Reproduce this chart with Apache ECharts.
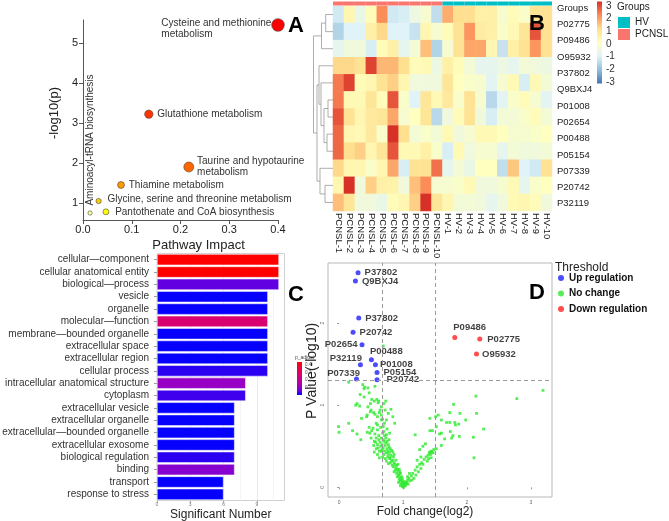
<!DOCTYPE html>
<html>
<head>
<meta charset="utf-8">
<title>PCNSL proteomics figure</title>
<script src="https://cdn.jsdelivr.net/npm/echarts@6/dist/echarts.min.js"></script>
<style>
  html, body { margin: 0; padding: 0; background: #fff; }
  #chart { width: 669px; height: 521px; }
</style>
</head>
<body>
<div id="chart"></div>
<script>
// ---- A: pathway impact ----
var pathNames = ['Cysteine and methionine\nmetabolism', 'Glutathione metabolism', 'Taurine and hypotaurine\nmetabolism',
  'Thiamine metabolism', 'Glycine, serine and threonine metabolism', 'Pantothenate and CoA biosynthesis', 'Aminoacyl-tRNA biosynthesis']
var pathImpact = [0.4, 0.135, 0.217, 0.078, 0.032, 0.047, 0.0145]
var pathLogP = [5.45, 3.22, 1.9, 1.45, 1.05, 0.78, 0.75]
var logPTicks = [1, 2, 3, 4, 5]

// ---- B: heatmap ----
var samples = ['PCNSL-1', 'PCNSL-2', 'PCNSL-3', 'PCNSL-4', 'PCNSL-5', 'PCNSL-6', 'PCNSL-7', 'PCNSL-8', 'PCNSL-9', 'PCNSL-10',
  'HV-1', 'HV-2', 'HV-3', 'HV-4', 'HV-5', 'HV-6', 'HV-7', 'HV-8', 'HV-9', 'HV-10']
var sampleGroups = ['PCNSL', 'PCNSL', 'PCNSL', 'PCNSL', 'PCNSL', 'PCNSL', 'PCNSL', 'PCNSL', 'PCNSL', 'PCNSL',
  'HV', 'HV', 'HV', 'HV', 'HV', 'HV', 'HV', 'HV', 'HV', 'HV']
var proteins = ['P02775', 'P09486', 'O95932', 'P37802', 'Q9BXJ4', 'P01008', 'P02654', 'P00488', 'P05154', 'P07339', 'P20742', 'P32119']
var zScores = [
  [-1.2, 0.3, -0.7, 0.1, 2.0, -1.2, -1.1, -0.6, -0.3, -1.4, 1.6, 1.0, 1.0, 0.5, 0.5, -0.3, 0.1, -0.2, 0.9, 0.9],
  [-1.6, -1.0, -1.0, 0.5, 1.1, -1.0, -1.0, -1.3, 0.3, -0.3, 0.1, 0.9, 1.9, 0.6, 0.5, -0.2, 0.2, 0.8, 2.6, 0.9],
  [-0.8, -0.5, -0.5, -1.1, 0.1, 0.5, -0.8, -0.4, 1.4, -1.6, -0.3, 0.9, 1.7, 1.7, 0.3, -1.3, 0.5, 0.9, 1.9, 0.9],
  [1.1, 1.1, 0.9, 2.8, 1.5, 1.5, 1.0, 0.1, 0.2, -0.6, 0.5, 0.1, -0.4, -0.8, -0.8, -0.6, -0.8, -0.4, -0.5, -0.6],
  [2.2, 2.8, 0.1, 0.3, 0.9, 1.2, 0.3, -0.5, -0.5, -0.5, 0.8, 0.0, -0.2, -0.3, -0.9, -0.3, 0.2, -1.1, 0.2, -0.4],
  [2.2, 0.2, 0.2, 0.8, 0.1, 2.6, -0.2, -1.0, 0.8, 0.2, 0.7, -0.2, 0.9, -0.3, -1.5, -0.9, -0.2, 0.1, -0.3, -0.9],
  [2.6, 0.9, 0.3, 0.7, 0.8, 1.7, -0.3, 0.0, 0.8, -1.5, -0.5, 0.1, 0.9, -0.5, -1.1, -0.4, -0.4, -0.2, 0.1, -0.4],
  [2.4, 0.3, 0.2, 0.7, -0.2, 3.0, 1.0, -0.4, -0.2, -0.4, 0.2, -0.5, -0.3, 0.2, 0.2, 0.0, -0.3, -0.3, -0.2, 0.0],
  [2.4, 1.0, 1.2, 0.3, 0.8, 2.6, 0.2, 0.2, 0.5, -0.2, -1.1, 0.2, -0.5, -0.3, -0.3, -0.8, -0.4, -0.5, -0.5, -0.4],
  [1.1, 0.3, 0.3, -0.2, 0.3, 1.7, -1.1, 0.9, 0.9, 2.3, -0.8, -0.4, -0.7, 0.0, 0.0, -1.4, 1.3, -1.0, -1.2, 0.9],
  [0.3, 3.0, -0.5, 1.2, 0.5, 0.4, -0.5, 1.4, 2.0, -0.3, -0.3, -0.2, 0.2, -0.5, -0.5, -0.3, 0.2, -0.8, -0.2, 0.0],
  [1.4, 0.8, -0.5, -0.5, -0.7, 0.1, 0.3, 1.2, 3.2, 0.8, 0.3, -0.4, -0.4, -0.5, -0.8, -0.5, 0.2, 0.3, 0.1, -0.5]
]
var scaleTicks = [3, 2, 1, 0, -1, -2, -3]
// row clustering: [child a, child b, height]; leaves 0-11, merges numbered from 12
var rowMerges = [[0, 1, 7.3], [12, 2, 11.5], [5, 6, 5], [7, 8, 6], [14, 15, 9], [4, 16, 12], [3, 17, 14],
  [10, 11, 8], [9, 19, 13], [18, 20, 16], [13, 21, 19.5]]

// ---- C: GO terms ----
var goTerms = ['cellular—component', 'cellular anatomical entity', 'biological—process', 'vesicle', 'organelle',
  'molecular—function', 'membrane—bounded organelle', 'extracellular space', 'extracellular region', 'cellular process',
  'intracellular anatomical structure', 'cytoplasm', 'extracellular vesicle', 'extracellular organelle',
  'extracellular—bounded organelle', 'extracellular exosome', 'biological regulation', 'binding', 'transport', 'response to stress']
var goCounts = [11, 11, 11, 10, 10, 10, 10, 10, 10, 10, 8, 8, 7, 7, 7, 7, 7, 7, 6, 6]
var goPadj = [0.44, 0.44, 0.053, 0.008, 0.008, 0.27, 0.008, 0.008, 0.008, 0.026, 0.11, 0.035, 0.008, 0.008, 0.008, 0.008, 0.026, 0.088, 0.008, 0.008]
var countTicks = [0, 3, 6, 9]
var padjTicks = [0.4, 0.3, 0.2, 0.1]

// ---- D: volcano ----
var upNames = ['P37802', 'Q9BXJ4', 'P37802', 'P20742', 'P02654', 'P00488', 'P32119', 'P01008', 'P05154', 'P07339', 'P20742']
var upPoints = [[0.296, 2.61], [0.255, 2.51], [0.307, 2.06], [0.218, 1.886], [0.358, 1.736], [0.505, 1.553],
  [0.333, 1.493], [0.568, 1.493], [0.593, 1.399], [0.271, 1.319], [0.593, 1.31]]
var downNames = ['P09486', 'P02775', 'O95932']
var downPoints = [[1.809, 1.825], [2.2, 1.805], [2.149, 1.623]]
var noChange = [
  [0.15, 1.28], [0.37, 1.25], [0.39, 1.20], [0.45, 1.21], [0.40, 1.22], [0.56, 1.23], [0.33, 1.13], [0.39, 1.10],
  [0.47, 1.15], [0.51, 1.07], [0.55, 1.05], [0.59, 1.07], [0.62, 1.05], [0.61, 1.03], [0.49, 1.02], [0.45, 0.98],
  [0.26, 1.00], [0.28, 1.02], [0.32, 0.99], [0.66, 0.98], [0.49, 0.92], [0.54, 0.91], [0.63, 0.91], [0.50, 0.94],
  [0.56, 0.89], [0.44, 0.88], [0.60, 0.86], [0.35, 0.84], [0.43, 0.86], [0.68, 0.83], [0.64, 0.94],
  [-0.01, 0.74], [0.15, 0.78], [0.00, 0.67], [0.21, 0.69], [0.34, 0.58], [0.28, 0.65], [0.44, 0.67], [0.47, 0.73],
  [0.51, 0.69], [0.56, 0.65], [0.60, 0.76], [0.65, 0.73], [0.53, 0.72], [0.58, 0.78], [0.66, 0.82], [0.48, 0.66],
  [0.50, 0.60], [0.58, 0.60], [0.55, 0.56], [0.54, 0.51], [0.60, 0.52], [0.58, 0.47], [0.55, 0.43], [0.60, 0.40],
  [0.66, 0.44], [0.63, 0.36], [0.68, 0.37], [0.60, 0.70], [0.62, 0.63], [0.57, 0.55],
  [0.73, 1.05], [0.81, 0.95], [0.84, 0.86], [0.87, 0.78], [0.75, 0.71], [0.79, 0.66], [0.71, 0.78], [0.66, 0.88],
  [0.72, 0.94], [0.70, 1.02], [0.74, 0.82], [0.77, 0.90], [0.69, 0.74], [0.69, 1.72],
  [0.68, 0.66], [0.71, 0.63], [0.66, 0.60], [0.73, 0.60], [0.70, 0.56], [0.75, 0.56], [0.67, 0.52], [0.72, 0.51],
  [0.77, 0.52], [0.75, 0.47], [0.80, 0.47], [0.71, 0.44], [0.79, 0.43], [0.84, 0.43], [0.81, 0.39], [0.76, 0.37],
  [0.85, 0.37], [0.84, 0.33], [0.89, 0.33], [0.80, 0.30], [0.87, 0.28], [0.92, 0.28], [0.89, 0.24], [0.94, 0.22],
  [0.92, 0.20], [0.96, 0.17], [0.93, 0.14], [0.98, 0.13], [0.97, 0.09], [1.00, 0.07], [1.02, 0.05], [0.99, 0.03],
  [1.03, 0.02], [1.01, 0.00],
  [0.70, 0.68], [0.74, 0.64], [0.69, 0.58], [0.78, 0.58], [0.73, 0.54], [0.69, 0.48], [0.78, 0.49], [0.74, 0.42],
  [0.82, 0.45], [0.77, 0.40], [0.86, 0.40], [0.79, 0.35], [0.82, 0.32], [0.86, 0.30], [0.90, 0.27], [0.85, 0.25],
  [0.91, 0.22], [0.95, 0.19], [0.90, 0.17], [0.94, 0.16], [0.96, 0.12], [0.99, 0.10], [0.95, 0.08], [0.98, 0.06],
  [1.00, 0.04], [0.97, 0.04], [1.02, 0.02], [0.99, 0.01],
  [0.62, 0.58], [0.64, 0.55], [0.61, 0.48], [0.65, 0.50], [0.67, 0.46], [0.63, 0.44], [0.70, 0.40], [0.72, 0.35],
  [0.74, 0.32], [0.77, 0.29], [0.76, 0.44], [0.80, 0.36], [0.83, 0.27], [0.88, 0.21], [0.86, 0.19], [0.91, 0.13],
  [0.94, 0.10], [0.93, 0.06], [0.96, 0.02],
  [1.05, 0.05], [1.07, 0.09], [1.09, 0.11], [1.13, 0.14], [1.15, 0.17], [1.19, 0.21], [1.22, 0.25], [1.26, 0.28],
  [1.29, 0.30], [1.33, 0.34], [1.36, 0.37], [1.39, 0.39], [1.41, 0.42], [1.45, 0.43], [1.10, 0.17], [1.07, 0.13],
  [1.14, 0.09], [1.17, 0.11], [1.20, 0.15], [1.24, 0.19], [1.28, 0.23], [1.31, 0.28], [1.38, 0.32], [1.40, 0.35],
  [1.19, 0.64], [1.28, 0.37], [1.22, 0.33], [1.04, 0.03], [1.06, 0.06], [1.11, 0.08], [1.03, 0.07], [1.08, 0.04],
  [1.26, 0.46], [1.31, 0.50], [1.35, 0.53],
  [3.19, 1.18], [2.78, 1.08], [2.14, 1.11], [1.79, 1.01], [2.15, 0.90], [1.89, 0.90], [1.73, 0.91], [1.55, 0.88],
  [1.51, 0.86], [1.98, 0.82], [1.60, 0.82], [1.68, 0.79], [1.73, 0.79], [1.81, 0.79], [1.82, 0.76], [1.87, 0.77],
  [1.52, 0.74], [2.26, 0.71], [1.46, 0.69], [1.42, 0.69], [1.60, 0.66], [1.57, 0.65], [1.74, 0.68], [1.78, 0.63],
  [1.88, 0.62], [2.10, 0.61], [1.65, 0.59], [1.76, 0.60], [1.60, 0.51], [1.52, 0.47], [1.48, 0.46], [1.44, 0.44],
  [1.42, 0.43], [1.47, 0.42], [1.43, 0.40], [1.44, 0.36], [2.11, 0.36], [1.42, 0.84]
]
var fcTicks = [0, 1, 2, 3]
var volcPTicks = [0, 1, 2]
var fcCuts = [0.667, 1.5]
var pCut = 1.3

// ---- styling helpers ----
var heatPalette = ['#FF0000', '#FF3300', '#FF6600', '#FF9900', '#FFCC00', '#FFFF00', '#FFFFA0']
var rdylbu = ['#4575B4', '#91BFDB', '#E0F3F8', '#FFFFBF', '#FEE090', '#FC8D59', '#D73027']
var padjColors = ['#0000FF', '#7000DE', '#9A00C2', '#B500A5', '#C90088', '#DA006C', '#E8004F', '#F40031', '#FF0000']
var font = 'Liberation Sans, Arial, sans-serif'

var pathLabelStyle = [
  { position: [-110, -1], align: 'left', verticalAlign: 'top', lineHeight: 11 },
  { position: 'right', distance: 4 },
  { position: 'right', distance: 3, lineHeight: 11 },
  { position: 'right', distance: 4 },
  { position: 'right', distance: 6, offset: [0, -2] },
  { position: 'right', distance: 6 },
  { position: 'top', distance: 5, rotate: 90, align: 'left', verticalAlign: 'middle' }
]
var upLabelStyle = [
  { position: 'right', distance: 4 }, { position: 'right', distance: 4 }, { position: 'right', distance: 4 },
  { position: 'right', distance: 4 }, { position: 'left', distance: 2 },
  { position: 'right', distance: -4, offset: [0, -8] }, { position: 'left', distance: -4, offset: [0, -6] },
  { position: 'right', distance: 2 }, { position: 'right', distance: 4 },
  { position: 'left', distance: -6, offset: [0, -6] }, { position: 'right', distance: 7 }
]
var downLabelStyle = [
  { position: 'right', distance: -4, offset: [0, -10] }, { position: 'right', distance: 5 }, { position: 'right', distance: 3 }
]

var logPRank = pathLogP.slice().sort(function (a, b) { return b - a })

// dendrogram segments from merges
var nodePos = proteins.map(function (p, i) { return i })
var nodeH = proteins.map(function () { return 0 })
var dendroLines = rowMerges.map(function (m) {
  var a = m[0], b = m[1], h = m[2]
  var seg = { coords: [[nodeH[a], nodePos[a]], [h, nodePos[a]], [h, nodePos[b]], [nodeH[b], nodePos[b]]] }
  nodePos.push((nodePos[a] + nodePos[b]) / 2)
  nodeH.push(h)
  return seg
})

var heatData = []
zScores.forEach(function (row, r) {
  row.forEach(function (v, c) { heatData.push([c, r, v]) })
})

function txt(text, x, y, size, extra) {
  var s = { text: text, x: x, y: y, font: (extra && extra.weight ? extra.weight + ' ' : '') + size + 'px ' + font,
    fill: (extra && extra.fill) || '#222', textAlign: (extra && extra.align) || 'left', textVerticalAlign: 'middle' }
  return { type: 'text', z: 100, style: s }
}

var graphics = [
  txt('A', 288, 26, 22, { weight: 'bold', fill: '#000' }),
  txt('B', 529, 24, 22, { weight: 'bold', fill: '#000' }),
  txt('C', 288, 295, 22, { weight: 'bold', fill: '#000' }),
  txt('D', 529, 293, 22, { weight: 'bold', fill: '#000' }),
  txt('Groups', 617, 7, 10),
  txt('Threshold', 555, 268, 12),
  txt('p_adjust', 295, 358, 5, { fill: '#444' }),
  {
    type: 'rect', z: 100, shape: { x: 597, y: 1.5, width: 5, height: 82 },
    style: { fill: new echarts.graphic.LinearGradient(0, 0, 0, 1, rdylbu.slice().reverse().map(function (c, i, arr) {
      return { offset: i / (arr.length - 1), color: c }
    })) }
  },
  {
    type: 'rect', z: 100, shape: { x: 297, y: 362, width: 5, height: 33 },
    style: { fill: new echarts.graphic.LinearGradient(0, 0, 0, 1, padjColors.slice().reverse().map(function (c, i, arr) {
      return { offset: i / (arr.length - 1), color: c }
    })) }
  }
]
scaleTicks.forEach(function (v) {
  graphics.push(txt(String(v), 606, 6 + (3 - v) * 76 / 6, 10, { fill: '#333' }))
})
padjTicks.forEach(function (v) {
  graphics.push(txt(String(v), 305, 362 + (0.44 - v) * 75.7, 4.5, { fill: '#555' }))
})

var option = {
  animation: false,
  textStyle: { fontFamily: font },
  grid: [
    { left: 83, top: 20, width: 195, height: 200, outerBoundsMode: 'none' },
    { left: 333, top: 6, width: 219, height: 205, outerBoundsMode: 'none' },
    { left: 333, top: 1.5, width: 219, height: 4, outerBoundsMode: 'none' },
    { left: 311, top: 6, width: 22, height: 205, outerBoundsMode: 'none' },
    { left: 333, top: 0, width: 219, height: 212, outerBoundsMode: 'none' },
    { left: 157, top: 253.5, width: 127.5, height: 247, show: true, borderColor: '#d0d0d0', borderWidth: 1, outerBoundsMode: 'none' },
    { left: 328, top: 263, width: 224, height: 234, show: true, borderColor: '#b8b8b8', borderWidth: 1, outerBoundsMode: 'none' }
  ],
  xAxis: [
    {
      gridIndex: 0, type: 'value', min: 0, max: 0.4, interval: 0.1,
      axisLine: { show: true, lineStyle: { color: '#555' } },
      axisTick: { show: true, length: 4, lineStyle: { color: '#555' } },
      axisLabel: { fontSize: 11, color: '#222', margin: 4, formatter: function (v) { return v.toFixed(1) } },
      splitLine: { show: false },
      name: 'Pathway Impact', nameLocation: 'middle', nameGap: 19,
      nameTextStyle: { fontSize: 13, color: '#222', padding: [0, 0, 0, 36] }
    },
    {
      gridIndex: 1, type: 'category', data: samples,
      axisLine: { show: false }, axisTick: { show: false },
      axisLabel: { rotate: -90, fontSize: 9.5, color: '#222', margin: 2, interval: 0 }
    },
    { gridIndex: 2, type: 'category', data: samples, show: false },
    { gridIndex: 3, type: 'value', min: 0, max: 22, inverse: true, show: false },
    { gridIndex: 4, type: 'value', show: false },
    {
      gridIndex: 5, type: 'value', min: 0, max: 11.5, interval: 3,
      axisLine: { show: false },
      axisTick: { show: true, length: 2, customValues: countTicks, lineStyle: { color: '#aaa' } },
      axisLabel: { fontSize: 5, color: '#777', margin: 2, customValues: countTicks },
      splitLine: { show: true, lineStyle: { color: '#ebebeb' } },
      minorTick: { show: false, splitNumber: 2 },
      minorSplitLine: { show: true, lineStyle: { color: '#f4f4f4' } },
      name: 'Significant Number', nameLocation: 'middle', nameGap: 5,
      nameTextStyle: { fontSize: 12, color: '#222' }
    },
    {
      gridIndex: 6, type: 'value', min: -0.174, max: 3.33,
      axisLine: { show: false },
      axisTick: { show: true, length: 2, customValues: fcTicks, lineStyle: { color: '#999' } },
      axisLabel: { fontSize: 5, color: '#666', margin: 3, customValues: fcTicks },
      splitLine: { show: false },
      name: 'Fold change(log2)', nameLocation: 'middle', nameGap: 8,
      nameTextStyle: { fontSize: 12, color: '#222', padding: [0, 30, 0, 0] }
    }
  ],
  yAxis: [
    {
      gridIndex: 0, type: 'value', min: 0.575, max: 5.575,
      axisLine: { show: true, lineStyle: { color: '#555' } },
      axisTick: { show: true, length: 4, customValues: logPTicks, lineStyle: { color: '#555' } },
      axisLabel: { fontSize: 11, color: '#222', margin: 5, customValues: logPTicks },
      splitLine: { show: false },
      name: '-log10(p)', nameLocation: 'middle', nameGap: 22,
      nameTextStyle: { fontSize: 13, color: '#222', padding: [0, 0, 0, 14] }
    },
    { gridIndex: 1, type: 'category', data: proteins, inverse: true, show: false },
    { gridIndex: 2, type: 'value', min: 0, max: 1, show: false },
    { gridIndex: 3, type: 'value', min: -0.5, max: 11.5, inverse: true, show: false },
    {
      gridIndex: 4, type: 'category', data: ['Groups'].concat(proteins), inverse: true, position: 'right',
      axisLine: { show: false }, axisTick: { show: false },
      axisLabel: { fontSize: 9.5, color: '#222', margin: 5, interval: 0 }
    },
    {
      gridIndex: 5, type: 'category', data: goTerms, inverse: true,
      axisLine: { show: false },
      axisTick: { show: true, length: 3, alignWithLabel: true, interval: 0, lineStyle: { color: '#999' } },
      axisLabel: { fontSize: 10, color: '#333', margin: 8, interval: 0 },
      splitLine: { show: false }
    },
    {
      gridIndex: 6, type: 'value', min: -0.117, max: 2.73,
      axisLine: { show: false },
      axisTick: { show: true, length: 2, customValues: volcPTicks, lineStyle: { color: '#999' } },
      axisLabel: { fontSize: 5, color: '#666', margin: 3, rotate: 90, customValues: volcPTicks },
      splitLine: { show: false },
      name: 'P Value(-log10)', nameLocation: 'middle', nameGap: 7,
      nameTextStyle: { fontSize: 14, color: '#222', padding: [0, 0, 0, 18] }
    }
  ],
  visualMap: [
    { type: 'continuous', show: false, seriesIndex: 1, dimension: 2, min: -3, max: 3, inRange: { color: rdylbu } },
    { type: 'continuous', show: false, seriesIndex: 6, dimension: 2, min: 0.005, max: 0.44, inRange: { color: padjColors } }
  ],
  legend: [
    {
      data: ['HV', 'PCNSL'], orient: 'vertical', left: 618, top: 17, padding: 0,
      icon: 'rect', itemWidth: 12, itemHeight: 11, itemGap: 1, selectedMode: false,
      textStyle: { fontSize: 10, color: '#222' }
    },
    {
      data: ['Up regulation', 'No change', 'Down regulation'], orient: 'vertical', left: 558, top: 273, padding: 0,
      icon: 'circle', itemWidth: 6, itemHeight: 6, itemGap: 5.5, selectedMode: false,
      textStyle: { fontSize: 10, fontWeight: 'bold', color: '#111' }
    }
  ],
  series: [
    {
      type: 'scatter', xAxisIndex: 0, yAxisIndex: 0,
      data: pathNames.map(function (n, i) {
        return { name: n, value: [pathImpact[i], pathLogP[i]], label: pathLabelStyle[i] }
      }),
      symbolSize: function (v) { return 2.3 + 16.4 * Math.sqrt(v[0]) },
      itemStyle: {
        color: function (p) { return heatPalette[logPRank.indexOf(p.value[1])] },
        borderColor: '#444', borderWidth: 0.6, opacity: 1
      },
      label: { show: true, formatter: '{b}', fontSize: 10, color: '#333' }
    },
    {
      type: 'heatmap', xAxisIndex: 1, yAxisIndex: 1, data: heatData,
      emphasis: { disabled: true }
    },
    {
      name: 'PCNSL', type: 'bar', xAxisIndex: 2, yAxisIndex: 2, stack: 'grp', barWidth: '100%',
      data: sampleGroups.map(function (g) { return g === 'PCNSL' ? 1 : '-' }),
      itemStyle: { color: '#F8766D' }
    },
    {
      name: 'HV', type: 'bar', xAxisIndex: 2, yAxisIndex: 2, stack: 'grp', barWidth: '100%',
      data: sampleGroups.map(function (g) { return g === 'HV' ? 1 : '-' }),
      itemStyle: { color: '#00BFC4' }
    },
    {
      type: 'lines', coordinateSystem: 'cartesian2d', xAxisIndex: 3, yAxisIndex: 3, polyline: true,
      data: dendroLines, silent: true,
      lineStyle: { color: '#8a8a8a', width: 0.7, opacity: 1 }
    },
    { type: 'scatter', xAxisIndex: 4, yAxisIndex: 4, data: [] },
    {
      type: 'bar', xAxisIndex: 5, yAxisIndex: 5, barCategoryGap: '10%',
      data: goTerms.map(function (t, i) { return [goCounts[i], t, goPadj[i]] }),
      encode: { x: 0, y: 1 },
      itemStyle: { borderColor: '#fff', borderWidth: 0.5 }
    },
    {
      name: 'No change', type: 'scatter', xAxisIndex: 6, yAxisIndex: 6, data: noChange,
      symbol: 'rect', symbolSize: 2.8, itemStyle: { color: '#2ee82e' },
      markLine: {
        silent: true, symbol: 'none', label: { show: false },
        lineStyle: { color: '#9a9a9a', type: [4, 3], width: 1 },
        data: [{ xAxis: fcCuts[0] }, { xAxis: fcCuts[1] }, { yAxis: pCut }]
      }
    },
    {
      name: 'Up regulation', type: 'scatter', xAxisIndex: 6, yAxisIndex: 6, symbolSize: 5, z: 4,
      data: upPoints.map(function (p, i) { return { name: upNames[i], value: p, label: upLabelStyle[i] } }),
      itemStyle: { color: '#1f1fff' },
      label: { show: true, formatter: '{b}', fontSize: 9.5, fontWeight: 'bold', color: '#111' }
    },
    {
      name: 'Down regulation', type: 'scatter', xAxisIndex: 6, yAxisIndex: 6, symbolSize: 5, z: 4,
      data: downPoints.map(function (p, i) { return { name: downNames[i], value: p, label: downLabelStyle[i] } }),
      itemStyle: { color: '#ff2020' },
      label: { show: true, formatter: '{b}', fontSize: 9.5, fontWeight: 'bold', color: '#111' }
    }
  ],
  graphic: graphics
}

var chart = echarts.init(document.getElementById('chart'))
chart.setOption(option)
</script>
</body>
</html>
